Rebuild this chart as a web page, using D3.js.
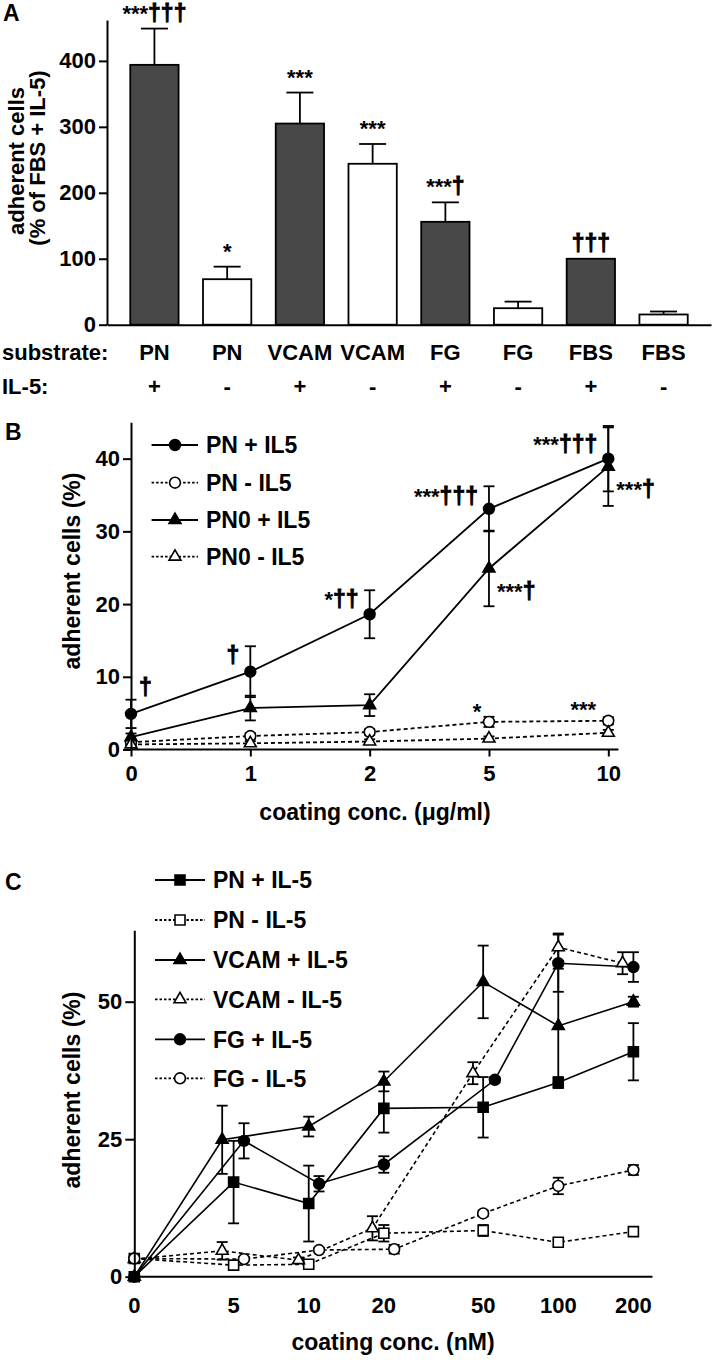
<!DOCTYPE html>
<html><head><meta charset="utf-8">
<script src="https://cdn.jsdelivr.net/npm/d3@7"></script>
<style>
body{margin:0;background:#fff}
svg{display:block}
text{font-family:"Liberation Sans",Arial,Helvetica,sans-serif;font-weight:bold;fill:#000}
</style>
</head><body>
<svg id="chart" width="717" height="1360"></svg>
<script>
// ---------- Panel A data ----------
const aSubstrates = ["PN","PN","VCAM","VCAM","FG","FG","FBS","FBS"];
const aIL5 = ["+","-","+","-","+","-","+","-"];
const aValues = [394, 69, 305, 244, 156, 25, 100, 15.5];
const aErrors = [55, 19, 47, 30, 29.5, 10, 0, 4.5];
const aSig = ["***†††","*","***","***","***†","","†††",""];
const aTicks = [0,100,200,300,400];

// ---------- Panel B data ----------
const bConc = ["0","1","2","5","10"];
const bNames = ["PN + IL5","PN - IL5","PN0 + IL5","PN0 - IL5"];
const bPNplus = [4.9, 10.7, 18.6, 33.1, 40.0];
const bPNplusErr = [1.95, 3.5, 3.3, 3.1, 4.5];
const bPNminus = [1.0, 1.85, 2.4, 3.8, 3.95];
const bPNminusErr = [0.3, 0.4, 0.4, 0.7, 0.5];
const bPN0plus = [1.7, 5.7, 6.1, 24.9, 38.9];
const bPN0plusErr = [0.5, 1.7, 1.5, 5.2, 5.4];
const bPN0minus = [0.7, 0.85, 1.1, 1.5, 2.3];
const bPN0minusErr = [0.2, 0.3, 0.3, 0.3, 0.4];
const bTicks = [0,10,20,30,40];
// significance labels: [concentration, y value of baseline, text, side]
const bSig = [
  ["0", 7.5, "†", "right"],
  ["1", 11.9, "†", "left"],
  ["2", 19.6, "*††", "left"],
  ["5", 33.8, "***†††", "left"],
  ["5", 20.7, "***†", "right"],
  ["10", 40.9, "***†††", "left"],
  ["10", 34.7, "***†", "right"],
  ["5", 4.2, "*", "mid"],
  ["10", 4.5, "***", "mid"]
];

// ---------- Panel C data ----------
const cTicksX = [0,5,10,20,50,100,200];
const cTicksY = [0,25,50];
const cNames = ["PN + IL-5","PN - IL-5","VCAM + IL-5","VCAM - IL-5","FG + IL-5","FG - IL-5"];
const cPNplusX = [0,5,10,20,50,100,200];
const cPNplus = [0, 17.2, 13.3, 30.6, 30.8, 35.3, 40.9];
const cPNplusErr = [0, 7.5, 6.9, 4.4, 5.5, 1.0, 5.2];
const cPNminusX = [0,5,10,20,50,100,200];
const cPNminus = [3.3, 2.1, 2.25, 7.9, 8.4, 6.25, 8.2];
const cPNminusErr = [0.5, 0.4, 0.4, 1.5, 1.0, 0.5, 0.5];
const cVCAMplusX = [0,4.5,10,20,50,100,200];
const cVCAMplus = [0, 24.9, 27.3, 35.5, 53.6, 45.6, 50.0];
const cVCAMplusErr = [0, 6.2, 1.8, 1.8, 6.6, 10.4, 0.9];
const cVCAMminusX = [0,4.5,9.1,18,45.5,100,181];
const cVCAMminus = [3.2, 4.7, 3.0, 8.8, 37.0, 59.9, 57.0];
const cVCAMminusErr = [0.4, 1.6, 0.5, 2.2, 2.0, 2.5, 2.0];
const cFGplusX = [0,5.5,11,20,55.7,100,200];
const cFGplus = [0, 24.7, 16.9, 20.4, 35.8, 57.0, 56.3];
const cFGplusErr = [0, 3.2, 1.4, 1.5, 0.5, 5.2, 2.7];
const cFGminusX = [0,5.5,11,22,50,100,200];
const cFGminus = [3.3, 3.2, 4.85, 5.0, 11.5, 16.5, 19.4];
const cFGminusErr = [0.3, 0.4, 0.4, 0.8, 0.5, 1.5, 0.9];

// ---------- helpers ----------
const svg = d3.select("#chart");
const FS = 22;
function styleAxis(g){
  g.selectAll("path,line").attr("stroke","#000").attr("stroke-width",2);
  g.selectAll("text").attr("font-size",FS).style("font-family",'"Liberation Sans",Arial,sans-serif').style("font-weight","bold").attr("fill","#000");
}
function marker(g, shape, filled, x, y){
  const types = {circle:d3.symbolCircle, triangle:d3.symbolTriangle, square:d3.symbolSquare};
  const sizes = {circle:92, triangle:62, square:100};
  g.append("path")
    .attr("d", d3.symbol().type(types[shape]).size(sizes[shape])())
    .attr("transform", `translate(${x},${y})`)
    .attr("fill", filled ? "#000" : "#fff")
    .attr("stroke","#000").attr("stroke-width",1.6);
}
function errBar(g, x, y0, yLo, yHi, cap){
  g.append("line").attr("x1",x).attr("x2",x).attr("y1",yLo).attr("y2",yHi)
    .attr("stroke","#000").attr("stroke-width",1.8);
  [yLo,yHi].forEach(yy=>{
    g.append("line").attr("x1",x-cap).attr("x2",x+cap).attr("y1",yy).attr("y2",yy)
      .attr("stroke","#000").attr("stroke-width",1.8);
  });
}
function sigText(g, x, y, txt, anchor){
  const t = g.append("text").attr("x",x).attr("y",y).attr("text-anchor",anchor)
    .attr("font-size",FS);
  const runs = txt.match(/\*+|†+/g) || [];
  runs.forEach(r=>{
    const ts = t.append("tspan").text(r);
    if(r[0]==="†") ts.attr("stroke","#000").attr("stroke-width",0.9).attr("font-size",23);
  });
}

// =============== PANEL A ===============
const gA = svg.append("g");
const xA = d3.scaleBand().domain(d3.range(aValues.length)).range([107,711])
  .paddingInner(0.336).paddingOuter(0.32);
const yA = d3.scaleLinear().domain([0,462]).range([324.7,20]);

gA.append("text").attr("x",3).attr("y",21).attr("font-size",23).text("A");

aValues.forEach((v,i)=>{
  gA.append("rect").attr("x",xA(i)).attr("width",xA.bandwidth())
    .attr("y",yA(v)).attr("height",yA(0)-yA(v))
    .attr("fill", aIL5[i]==="+" ? "#484848" : "#fff")
    .attr("stroke","#000").attr("stroke-width",1.8);
  const cx = xA(i)+xA.bandwidth()/2;
  if(aErrors[i]>0){
    gA.append("line").attr("x1",cx).attr("x2",cx).attr("y1",yA(v)).attr("y2",yA(v+aErrors[i]))
      .attr("stroke","#000").attr("stroke-width",1.8);
    gA.append("line").attr("x1",cx-13.5).attr("x2",cx+13.5)
      .attr("y1",yA(v+aErrors[i])).attr("y2",yA(v+aErrors[i]))
      .attr("stroke","#000").attr("stroke-width",1.8);
  }
  if(aSig[i]) sigText(gA, cx, yA(v+aErrors[i])-8, aSig[i], "middle");
  gA.append("text").attr("x",cx).attr("y",360).attr("text-anchor","middle")
    .attr("font-size",FS).text(aSubstrates[i]);
  gA.append("text").attr("x",cx).attr("y",394).attr("text-anchor","middle")
    .attr("font-size",FS).text(aIL5[i]);
});
gA.append("text").attr("x",2).attr("y",360).attr("font-size",FS).text("substrate:");
gA.append("text").attr("x",2).attr("y",394).attr("font-size",FS).text("IL-5:");

const axA = gA.append("g").attr("transform","translate(107,0)")
  .call(d3.axisLeft(yA).tickValues(aTicks).tickSize(8).tickSizeOuter(0).tickPadding(3));
styleAxis(axA);
const axAx = gA.append("g").attr("transform",`translate(0,${yA(0)})`)
  .call(d3.axisBottom(xA).tickSize(0).tickSizeOuter(0).tickFormat(""));
styleAxis(axAx);

gA.append("text").attr("transform","translate(23.5,161) rotate(-90)")
  .attr("text-anchor","middle").attr("font-size",FS).text("adherent cells");
gA.append("text").attr("transform","translate(45,158) rotate(-90)")
  .attr("text-anchor","middle").attr("font-size",FS).text("(% of FBS + IL-5)");

// =============== PANEL B ===============
const gB = svg.append("g");
const xB = d3.scalePoint().domain(bConc).range([131,608.3]);
const yB = d3.scaleLinear().domain([0,45]).range([749.5,422.3]);
gB.append("text").attr("x",5).attr("y",440).attr("font-size",23).text("B");

const bSeries = [
  {name:bNames[0], v:bPNplus, e:bPNplusErr, shape:"circle", filled:true, dash:null},
  {name:bNames[1], v:bPNminus, e:bPNminusErr, shape:"circle", filled:false, dash:"4,3"},
  {name:bNames[2], v:bPN0plus, e:bPN0plusErr, shape:"triangle", filled:true, dash:null},
  {name:bNames[3], v:bPN0minus, e:bPN0minusErr, shape:"triangle", filled:false, dash:"4,3"}
];
const lineB = d3.line().x(d=>xB(d[0])).y(d=>yB(d[1]));
bSeries.forEach(s=>{
  const pts = bConc.map((c,i)=>[c,s.v[i]]);
  gB.append("path").attr("d",lineB(pts)).attr("fill","none").attr("stroke","#000")
    .attr("stroke-width",1.8).attr("stroke-dasharray",s.dash);
});
bSeries.forEach(s=>{
  bConc.forEach((c,i)=>{
    errBar(gB, xB(c), yB(s.v[i]), yB(s.v[i]-s.e[i]), yB(s.v[i]+s.e[i]), 5.5);
  });
});
bSeries.forEach(s=>{
  bConc.forEach((c,i)=> marker(gB, s.shape, s.filled, xB(c), yB(s.v[i])));
});
bSig.forEach(([c,val,txt,side])=>{
  const x0 = xB(c);
  if(side==="left") sigText(gB, x0-11, yB(val), txt, "end");
  else if(side==="right") sigText(gB, x0+8, yB(val), txt, "start");
  else sigText(gB, x0 - (txt.length>1?25:12), yB(val), txt, "middle");
});

const axBy = gB.append("g").attr("transform","translate(131,0)")
  .call(d3.axisLeft(yB).tickValues(bTicks).tickSize(8).tickSizeOuter(0).tickPadding(3));
styleAxis(axBy);
const axBx = gB.append("g").attr("transform",`translate(0,${yB(0)})`)
  .call(d3.axisBottom(xB).tickSize(7).tickSizeOuter(0).tickPadding(9));
axBx.select(".domain").remove();
styleAxis(axBx);
gB.append("line").attr("x1",131).attr("x2",618.4).attr("y1",yB(0)).attr("y2",yB(0))
  .attr("stroke","#000").attr("stroke-width",2);

gB.append("text").attr("transform","translate(79.5,571) rotate(-90)")
  .attr("text-anchor","middle").attr("font-size",23).text("adherent cells (%)");
gB.append("text").attr("x",375).attr("y",820).attr("text-anchor","middle")
  .attr("font-size",23).text("coating conc. (μg/ml)");

const legBY = [445, 482.7, 520, 556.7];
bSeries.forEach((s,i)=>{
  const y = legBY[i];
  gB.append("line").attr("x1",151.6).attr("x2",198).attr("y1",y).attr("y2",y)
    .attr("stroke","#000").attr("stroke-width",1.8)
    .attr("stroke-dasharray", s.dash ? "2.5,2" : null);
  marker(gB, s.shape, s.filled, 175, y);
  gB.append("text").attr("x",206).attr("y",y+8.2).attr("font-size",23).text(s.name);
});

// =============== PANEL C ===============
const gC = svg.append("g");
const xLog = d3.scaleLog().domain([2,200]).range([134.3,633.4]);
const xC = v => xLog(v === 0 ? 2 : v);   // "0" is drawn one step left of 5
const yC = d3.scaleLinear().domain([0,63]).range([1276.7,930.2]);
gC.append("text").attr("x",5).attr("y",890).attr("font-size",23).text("C");

const cSeries = [
  {name:cNames[0], x:cPNplusX, v:cPNplus, e:cPNplusErr, shape:"square", filled:true, dash:null},
  {name:cNames[1], x:cPNminusX, v:cPNminus, e:cPNminusErr, shape:"square", filled:false, dash:"4,3"},
  {name:cNames[2], x:cVCAMplusX, v:cVCAMplus, e:cVCAMplusErr, shape:"triangle", filled:true, dash:null},
  {name:cNames[3], x:cVCAMminusX, v:cVCAMminus, e:cVCAMminusErr, shape:"triangle", filled:false, dash:"4,3"},
  {name:cNames[4], x:cFGplusX, v:cFGplus, e:cFGplusErr, shape:"circle", filled:true, dash:null},
  {name:cNames[5], x:cFGminusX, v:cFGminus, e:cFGminusErr, shape:"circle", filled:false, dash:"4,3"}
];
const lineC = d3.line().x(d=>xC(d[0])).y(d=>yC(d[1]));
cSeries.forEach(s=>{
  const pts = s.x.map((xx,i)=>[xx,s.v[i]]);
  gC.append("path").attr("d",lineC(pts)).attr("fill","none").attr("stroke","#000")
    .attr("stroke-width",1.6).attr("stroke-dasharray",s.dash);
});
cSeries.forEach(s=>{
  s.x.forEach((xx,i)=>{
    if(s.e[i]>0) errBar(gC, xC(xx), yC(s.v[i]), yC(s.v[i]-s.e[i]), yC(s.v[i]+s.e[i]), 5.5);
  });
});
cSeries.forEach(s=>{
  s.x.forEach((xx,i)=> marker(gC, s.shape, s.filled, xC(xx), yC(s.v[i])));
});

const axCy = gC.append("g").attr("transform","translate(134.3,0)")
  .call(d3.axisLeft(yC).tickValues(cTicksY).tickSize(9).tickSizeOuter(0).tickPadding(3));
styleAxis(axCy);
gC.append("line").attr("x1",134.3).attr("x2",652.5).attr("y1",yC(0)).attr("y2",yC(0))
  .attr("stroke","#000").attr("stroke-width",2);
cTicksX.forEach(t=>{
  gC.append("text").attr("x",xC(t)).attr("y",1313).attr("text-anchor","middle")
    .attr("font-size",FS).text(t);
});
gC.append("text").attr("transform","translate(80,1090) rotate(-90)")
  .attr("text-anchor","middle").attr("font-size",23).text("adherent cells (%)");
gC.append("text").attr("x",393).attr("y",1350).attr("text-anchor","middle")
  .attr("font-size",23).text("coating conc. (nM)");

const legCY = [880, 920, 960, 999.3, 1039.3, 1078.3];
cSeries.forEach((s,i)=>{
  const y = legCY[i];
  gC.append("line").attr("x1",155).attr("x2",205).attr("y1",y).attr("y2",y)
    .attr("stroke","#000").attr("stroke-width",1.8)
    .attr("stroke-dasharray", s.dash ? "2.5,2" : null);
  marker(gC, s.shape, s.filled, 180, y);
  gC.append("text").attr("x",213).attr("y",y+8.2).attr("font-size",23).text(s.name);
});
</script>
</body></html>
